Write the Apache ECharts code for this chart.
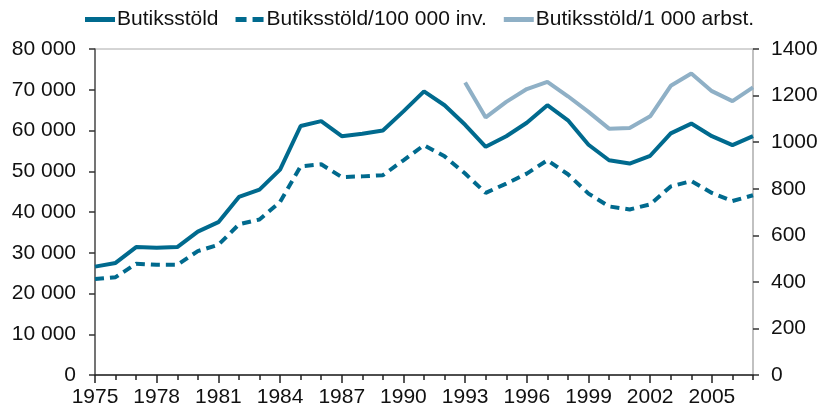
<!DOCTYPE html>
<html><head><meta charset="utf-8">
<script src="https://cdn.jsdelivr.net/npm/echarts@6/dist/echarts.min.js"></script>
<style>html,body{margin:0;padding:0;background:#fff}#c{width:823px;height:413px}</style>
</head><body><div id="c"></div>
<script>
const years = [];
for (let y = 1975; y <= 2007; y++) years.push(String(y));
const butiksstold = [26600,27500,31400,31200,31400,35200,37500,43700,45500,50400,61100,62300,58600,59200,60000,64700,69600,66200,61400,56000,58600,61900,66200,62500,56500,52700,51900,53800,59300,61700,58600,56400,58600];
const per100000 = [412,420,478,473,473,532,559,647,668,743,896,905,850,853,858,922,987,939,865,782,822,865,922,862,779,724,711,733,810,833,782,747,772];
const per1000arbst = [null,null,null,null,null,null,null,null,null,null,null,null,null,null,null,null,null,null,1256,1106,1173,1228,1259,1197,1130,1058,1061,1111,1242,1295,1219,1176,1235];
const seriesNames = ['Butiksstöld','Butiksstöld/100 000 inv.','Butiksstöld/1 000 arbst.'];

const dark = '#006a8e', light = '#8fb0c6';
const font = 'Liberation Sans, Arial, sans-serif';
const chart = echarts.init(document.getElementById('c'));
chart.setOption({
  animation:false,
  grid:{left:95,right:70,top:49,bottom:38,show:true,borderColor:'#aaa',borderWidth:1,backgroundColor:'transparent'},
  legend:{top:4,left:80,itemWidth:30,itemHeight:5,itemGap:17,
    textStyle:{fontFamily:font,fontSize:21,color:'#111',padding:[0,0,0,-3]},
    data:[
      {name:seriesNames[0],icon:'rect'},
      {name:seriesNames[1],icon:'path://M0,0H11V5H0ZM17,0H28V5H17Z'},
      {name:seriesNames[2],icon:'rect'}
    ]},
  xAxis:[{type:'category',data:years,boundaryGap:false,
    axisLine:{lineStyle:{color:'#222',width:1.5}},
    axisTick:{interval:2,length:8,lineStyle:{color:'#222',width:1.5}},
    axisLabel:{interval:2,fontFamily:font,fontSize:21,color:'#111',margin:12},
    splitLine:{show:false}},
   {type:'category',data:years,boundaryGap:false,position:'bottom',
    axisLine:{show:false},
    axisTick:{interval:0,length:5,lineStyle:{color:'#222',width:1.5}},
    axisLabel:{show:false},splitLine:{show:false}}],
  yAxis:[{type:'value',min:0,max:80000,interval:10000,position:'left',
    axisLine:{show:true,lineStyle:{color:'#555',width:1.5}},
    axisTick:{show:true,length:6,lineStyle:{color:'#333',width:1.5}},
    axisLabel:{fontFamily:font,fontSize:21,color:'#111',margin:19,
      formatter:v=>String(v).replace(/\B(?=(\d{3})+(?!\d))/g,' ')},
    splitLine:{show:false}},
   {type:'value',min:0,max:1400,interval:200,position:'right',
    axisLine:{show:true,lineStyle:{color:'#bbb',width:1.5}},
    axisTick:{show:true,length:6,lineStyle:{color:'#333',width:1.5}},
    axisLabel:{fontFamily:font,fontSize:21,color:'#111',margin:18,formatter:v=>String(v)},
    splitLine:{show:false}}],
  series:[
   {name:seriesNames[0],type:'line',data:butiksstold,yAxisIndex:0,symbol:'none',
    lineStyle:{color:dark,width:4},itemStyle:{color:dark}},
   {name:seriesNames[1],type:'line',data:per100000,yAxisIndex:1,symbol:'none',
    lineStyle:{color:dark,width:4,type:[9,6]},itemStyle:{color:dark}},
   {name:seriesNames[2],type:'line',data:per1000arbst,yAxisIndex:1,symbol:'none',
    lineStyle:{color:light,width:4},itemStyle:{color:light}}
  ]
});
</script></body></html>
